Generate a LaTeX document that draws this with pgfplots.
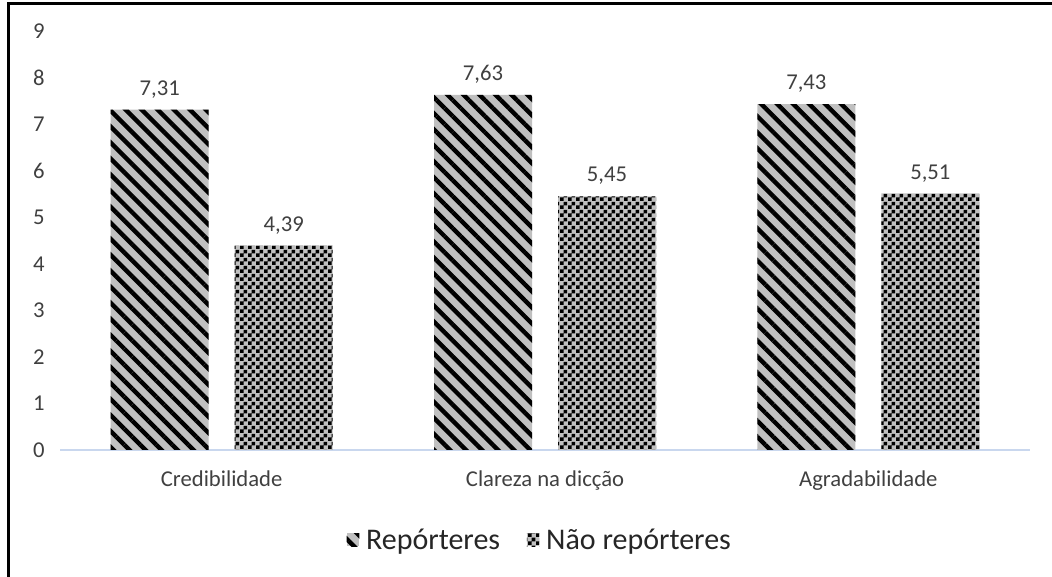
\documentclass[border=0pt]{standalone}
\usepackage{fontspec}
\setmainfont{Carlito}
\usepackage{pgfplots}
\pgfplotsset{compat=1.18}
\usetikzlibrary{patterns,patterns.meta}
\pgfdeclarepatternformonly{checker3}{\pgfpointorigin}{\pgfqpoint{6pt}{6pt}}{\pgfqpoint{6pt}{6pt}}{%
 \pgfpathrectangle{\pgfpointorigin}{\pgfqpoint{3pt}{3pt}}%
 \pgfpathrectangle{\pgfqpoint{3pt}{3pt}}{\pgfqpoint{3pt}{3pt}}%
 \pgfusepath{fill}}
\definecolor{barGray}{HTML}{C0C0C0}
\definecolor{axisBlue}{HTML}{C9D7EE}
\definecolor{txtGray}{HTML}{404040}
\definecolor{legTxt}{HTML}{262626}

\begin{document}
\begin{tikzpicture}
\path[use as bounding box] (0,0) rectangle (789pt,432.75pt);
\begin{axis}[
 at={(45pt,95.25pt)}, anchor=south west,
 scale only axis, width=727.5pt, height=314.25pt,
 ybar=19.5pt, bar width=73.5pt,
 xmin=-0.5, xmax=2.5, ymin=0, ymax=9,
 xtick={0,1,2}, xticklabels={Credibilidade, Clareza na dicção, Agradabilidade},
 ytick={0,1,...,9},
 major tick length=0pt,
 axis x line*=bottom, axis y line*=left,
 x axis line style={-, draw=axisBlue, line width=1.5pt},
 y axis line style={draw=none},
 /pgf/number format/assume math mode=true,
 tick label style={font=\fontsize{17}{20}\selectfont, text=txtGray},
 yticklabel style={xshift=-8pt},
 xticklabel style={yshift=-12pt},
 nodes near coords={\pgfmathprintnumber[fixed,fixed zerofill,precision=2,use comma,assume math mode=true]{\pgfplotspointmeta}},
 nodes near coords style={font=\fontsize{17}{20}\selectfont, text=txtGray, yshift=5pt},
 legend style={at={(0.495,-0.215)}, anchor=center, draw=none, legend columns=2,
   font=\fontsize{22.5}{26}\selectfont, text=legTxt,
   /tikz/every odd column/.append style={column sep=3pt},
   /tikz/every even column/.append style={column sep=18pt}},
 legend image code/.code={\draw[#1,draw=none] (0pt,-4.5pt) rectangle (9.5pt,5pt);},
]
\addplot[fill=barGray, draw=none, postaction={pattern={Lines[angle=-45,distance=8.5pt,line width=3.3pt]}, pattern color=black}]
 coordinates {(0,7.31) (1,7.63) (2,7.43)};
\addlegendentry{Repórteres}
\addplot[fill=barGray, draw=none, postaction={pattern=checker3, pattern color=black}]
 coordinates {(0,4.39) (1,5.45) (2,5.51)};
\addlegendentry{Não repórteres}
\end{axis}
\draw[line width=2.25pt, line cap=rect] (6.4pt,0) -- (6.4pt,430.1pt) -- (789pt,430.1pt);
\end{tikzpicture}
\end{document}
